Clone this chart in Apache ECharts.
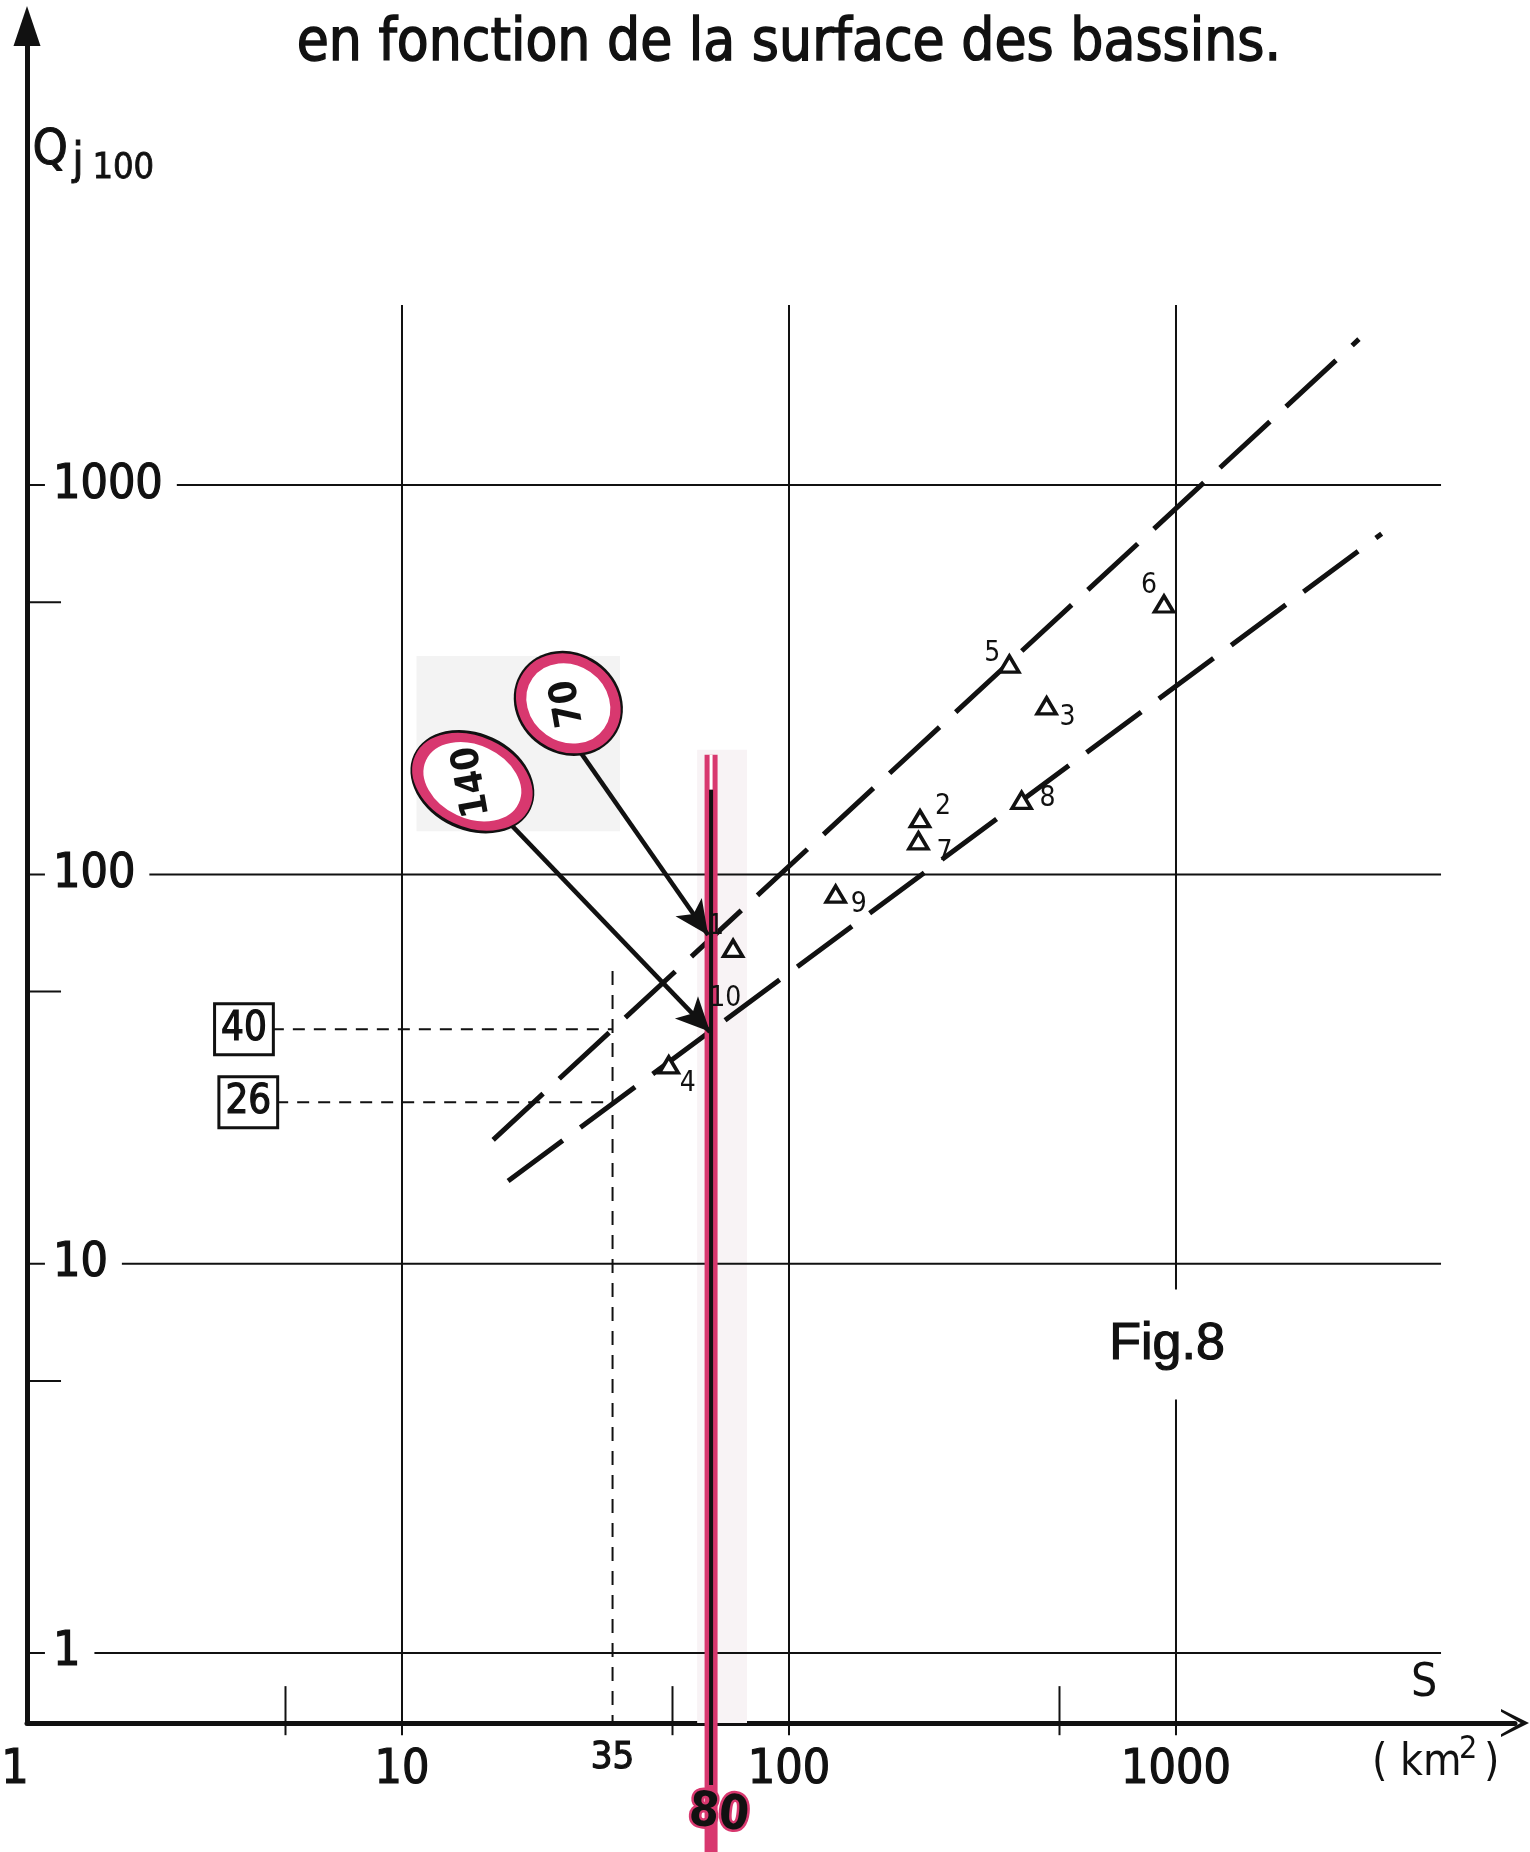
<!DOCTYPE html>
<html>
<head>
<meta charset="utf-8">
<title>Qj100 en fonction de la surface des bassins</title>
<script src="https://cdn.jsdelivr.net/npm/echarts@6.0.0/dist/echarts.min.js"></script>
<style>
  html, body { margin: 0; padding: 0; background: #fff; }
  #chart { width: 1530px; height: 1852px; }
</style>
</head>
<body>
<div id="chart"></div>
<script>
// stations (triangles): surface S (km2) and Qj100
const stationIds = ['1', '2', '3', '4', '5', '6', '7', '8', '9'];
const surfaceKm2 = [71.7, 218, 463, 48.9, 371, 931, 216, 399, 132];
const qj100 = [64.6, 139, 271, 32.4, 347, 495, 122, 155, 89];

// dashed envelope lines, both ends [S, Q]
const upperLine = [[17.2, 20.8], [2970, 2370]];
const lowerLine = [[18.8, 16.3], [3400, 750]];

// ticks and labels
const xMajor = [10, 100, 1000];
const xMinor = [5, 50, 500];
const xTickValues = [1, 10, 100, 1000];
const xTickLabels = ['1', '10', '100', '1000'];
const yMajor = [1, 10, 100, 1000];
const yMinor = [5, 50, 500];
const yTickLabels = ['1', '10', '100', '1000'];

// reading at S = 35 km2
const readS = 35;
const readQ = [40, 26];
const readLabels = ['40', '26'];

// hand added pink reading line ("80") and the two circled values
const pinkS = 62.9;
const pinkLabel = '80';
const circleLabels = ['70', '140'];
const circleCenters = [[26.9, 275], [15.2, 173]];
const arrowFrom = [[27.7, 219], [17.4, 148]];
const arrowTo = [[61.8, 69.9], [62.5, 39.4]];

// axis extents
const X_MIN = 1.074, X_MAX = 7516;
const Y_MIN = 0.661, Y_MAX = 15110;
const GRID_END_X = 4840, GRID_TOP_Y = 2900, BELOW_AXIS_Y = 0.615;

const ink = '#111';
const pink = '#d8386f';
const font = "'DejaVu Sans Condensed', 'Liberation Sans Narrow', 'DejaVu Sans', sans-serif";

function seg(points, width, type, color, z) {
  return {
    type: 'line', data: points, symbol: 'none', clip: false, silent: true, animation: false,
    lineStyle: { color: color || ink, width: width, type: type || 'solid' },
    z: z || 2
  };
}

// text-only scatter (symbol hidden)
function textSeries(data, label, z) {
  return {
    type: 'scatter', clip: false, silent: true, animation: false, z: z || 8, symbolSize: 0,
    itemStyle: { opacity: 1 },
    data: data,
    label: Object.assign({ show: true, formatter: '{b}', color: ink, fontFamily: font }, label)
  };
}

const series = [];

// scan shading
series.push({
  type: 'line', data: [], clip: false, z: 1,
  markArea: {
    silent: true, animation: false,
    itemStyle: { color: '#f3f3f3' },
    data: [
      [{ coord: [10.9, 364] }, { coord: [36.6, 129] }],
      [{ coord: [57.9, 209], itemStyle: { color: '#f8f3f5' } }, { coord: [77.9, 0.308] }]
    ]
  }
});

// grid lines and ticks
yMajor.forEach(v => series.push(seg([[0.994, v], [GRID_END_X, v]], 2)));
xMajor.forEach(v => series.push(seg([[v, GRID_TOP_Y], [v, BELOW_AXIS_Y]], 2)));
yMinor.forEach(v => series.push(seg([[1.0, v], [1.315, v]], 2)));
xMinor.forEach(v => series.push(seg([[v, 0.822], [v, BELOW_AXIS_Y]], 2)));

// reading lines at 35 km2
series.push(seg([[4.61, readQ[0]], [readS, readQ[0]]], 2, [12, 9]));
series.push(seg([[4.73, readQ[1]], [readS, readQ[1]]], 2, [12, 9]));
series.push(seg([[readS, 56.5], [readS, Y_MIN]], 2, [14, 10]));

// envelopes
series.push(seg(upperLine, 5, [68, 22], ink, 3));
series.push(seg(lowerLine, 5, [68, 22], ink, 3));

// pink line
series.push(seg([[pinkS, 203], [pinkS, 0.308]], 13, 'solid', pink, 4));
series.push(seg([[pinkS, 203], [pinkS, 165]], 3, 'solid', '#fff', 4));
series.push(seg([[pinkS, 165], [pinkS, 0.458]], 4, 'solid', ink, 4));

// arrows from the circles
series.push({
  type: 'line', data: [], clip: false, z: 5,
  markLine: {
    silent: true, animation: false,
    symbol: ['none', 'arrow'], symbolSize: [24, 34],
    label: { show: false },
    lineStyle: { color: ink, width: 4.5, type: 'solid', opacity: 1 },
    data: arrowFrom.map((p, i) => [{ coord: p }, { coord: arrowTo[i] }])
  }
});

// circles
const circleSizes = [[98, 86], [114, 82]];
const circleRot = [-35, -25];
series.push({
  type: 'scatter', clip: false, silent: true, animation: false, z: 6,
  data: circleCenters.map((c, i) => ({
    value: c, symbolSize: [circleSizes[i][0] + 15, circleSizes[i][1] + 15], symbolRotate: circleRot[i]
  })),
  symbol: 'circle', itemStyle: { color: ink, opacity: 1 }
});
series.push({
  type: 'scatter', clip: false, silent: true, animation: false, z: 7,
  data: circleCenters.map((c, i) => ({
    value: c, name: circleLabels[i], symbolSize: circleSizes[i], symbolRotate: circleRot[i]
  })),
  symbol: 'circle',
  itemStyle: { color: '#fff', borderColor: pink, borderWidth: 10, opacity: 1 },
  label: {
    show: true, position: 'inside', formatter: '{b}', rotate: 100,
    fontFamily: font, fontSize: 38, fontWeight: 'bold', color: ink
  }
});

// stations
const labelOffset = {
  '1': [-17, -22], '2': [23, -12], '3': [21, 12], '4': [19, 19], '5': [-17, -10],
  '6': [-15, -18], '7': [26, 12], '8': [26, -2], '9': [23, 11]
};
series.push({
  type: 'scatter', clip: false, silent: true, animation: false, z: 8,
  symbol: 'triangle', symbolSize: [19, 16],
  itemStyle: { color: '#fff', borderColor: ink, borderWidth: 3.5, opacity: 1 },
  data: stationIds.map((id, i) => ({
    value: [surfaceKm2[i], qj100[i]], name: id,
    label: { offset: labelOffset[id] }
  })),
  label: { show: true, position: 'inside', formatter: '{b}', fontFamily: font, fontSize: 28, color: ink }
});
series.push(textSeries([{ value: [68.4, 47.8], name: '10' }], { position: 'inside', fontSize: 28 }));

// pink "80"
series.push(textSeries([{ value: [65.9, 0.384], name: pinkLabel }], {
  position: 'inside', rotate: -6, fontSize: 48, fontWeight: 'bold',
  textBorderColor: pink, textBorderWidth: 5
}));

// axis labels
const labelInk = { textBorderColor: ink, textBorderWidth: 1.2 };
series.push(textSeries(
  yMajor.map((v, i) => ({ value: [1.195, v], name: yTickLabels[i] })),
  Object.assign({ position: 'right', distance: 0, backgroundColor: '#fff', padding: [2, 14, 2, 8], fontSize: 48 }, labelInk)
));
series.push(textSeries(
  xTickValues.map((v, i) => ({ value: [v, Y_MIN], name: xTickLabels[i] })),
  Object.assign({ position: 'bottom', distance: 24, fontSize: 48 }, labelInk)
));
series.push(textSeries([{ value: [readS, Y_MIN], name: String(readS) }],
  Object.assign({ position: 'bottom', distance: 16, fontSize: 38 }, labelInk)));
series.push(textSeries(
  [{ value: [4.61, readQ[0]], name: readLabels[0] }, { value: [4.73, readQ[1]], name: readLabels[1] }],
  Object.assign({
    position: 'left', distance: 0, borderColor: ink, borderWidth: 3, padding: [6, 5, 2, 5],
    backgroundColor: '#fff', fontSize: 40
  }, labelInk)
));
series.push(textSeries([{ value: [948, 6.2], name: 'Fig.8' }], Object.assign({
  position: 'inside', backgroundColor: '#fff', padding: [14, 10, 44, 10],
  fontFamily: "'Liberation Sans', Arial, sans-serif", fontSize: 52
}, labelInk)));

const chart = echarts.init(document.getElementById('chart'));
chart.setOption({
  animation: false,
  backgroundColor: '#fff',
  grid: { left: 27, right: 15, top: 26, bottom: 129, containLabel: false, outerBoundsMode: 'none' },
  xAxis: {
    type: 'log', logBase: 10, min: X_MIN, max: X_MAX,
    axisLine: {
      show: true, onZero: false,
      symbol: ['none', 'path://M0,20 L10,0 L20,20 L18,20 L10,6 L2,20 Z'], symbolSize: [28, 30],
      lineStyle: { color: ink, width: 5 }
    },
    axisTick: { show: false }, axisLabel: { show: false }, splitLine: { show: false }
  },
  yAxis: {
    type: 'log', logBase: 10, min: Y_MIN, max: Y_MAX,
    axisLine: {
      show: true, onZero: false,
      symbol: ['none', 'triangle'], symbolSize: [27, 40],
      lineStyle: { color: ink, width: 5 }
    },
    axisTick: { show: false }, axisLabel: { show: false }, splitLine: { show: false }
  },
  graphic: [
    { type: 'text', left: 296, top: 15, style: { text: 'en fonction de la surface des bassins.', fontFamily: font, fontSize: 58, fill: ink, stroke: ink, lineWidth: 1.4 } },
    { type: 'text', left: 32, top: 126, style: { text: 'Q', fontFamily: font, fontSize: 50, fill: ink, stroke: ink, lineWidth: 1 } },
    { type: 'text', left: 72, top: 140, style: { text: 'j', fontFamily: font, fontSize: 44, fill: ink, stroke: ink, lineWidth: 1 } },
    { type: 'text', left: 92, top: 150, style: { text: '100', fontFamily: font, fontSize: 36, fill: ink, stroke: ink, lineWidth: 0.8 } },
    { type: 'text', left: 1411, top: 1661, style: { text: 'S', fontFamily: font, fontSize: 46, fill: ink } },
    { type: 'text', left: 1372, top: 1742, style: { text: '( km', fontFamily: font, fontSize: 44, fill: ink } },
    { type: 'text', left: 1459, top: 1734, style: { text: '2', fontFamily: font, fontSize: 32, fill: ink } },
    { type: 'text', left: 1484, top: 1742, style: { text: ')', fontFamily: font, fontSize: 44, fill: ink } }
  ],
  series: series
});
</script>
</body>
</html>
